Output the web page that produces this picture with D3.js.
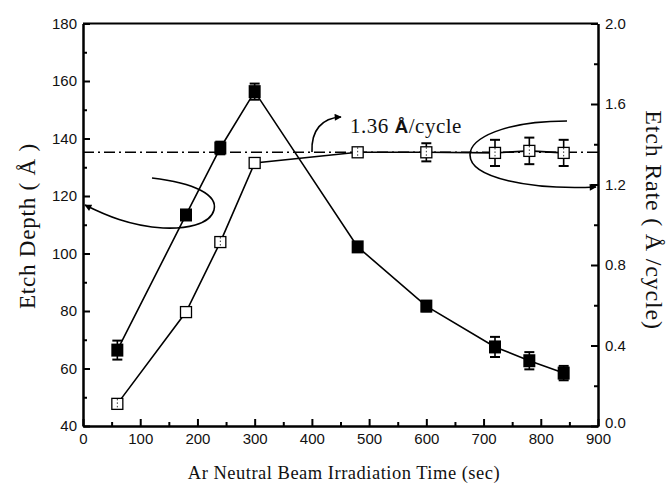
<!DOCTYPE html>
<html>
<head>
<meta charset="utf-8">
<script src="https://cdn.jsdelivr.net/npm/d3@7"></script>
<style>
  body { margin: 0; background: #fff; }
</style>
</head>
<body>
<div id="chart"></div>
<script>
// irradiation times (sec)
var times = [60, 180, 240, 300, 480, 600, 720, 780, 840];
// etch depth (A), filled squares, left axis
var depth = [66.4, 113.4, 136.7, 156.3, 102.3, 81.7, 67.5, 62.7, 58.4];
var depthErr = [3.3, 1.5, 2.2, 2.8, 1.2, 1.8, 3.5, 3.0, 2.5];
// etch rate (A/cycle), open squares, right axis
var rate = [0.11, 0.566, 0.914, 1.307, 1.36, 1.36, 1.357, 1.367, 1.357];
var rateErr = [0.02, 0.0, 0.02, 0.0, 0.015, 0.045, 0.065, 0.066, 0.065];
var refRate = 1.36;

var xTicks = [0, 100, 200, 300, 400, 500, 600, 700, 800, 900];
var leftTicks = [40, 60, 80, 100, 120, 140, 160, 180];
var rightTicks = [0.0, 0.4, 0.8, 1.2, 1.6, 2.0];

var W = 670, H = 489;
var svg = d3.select('#chart').append('svg')
    .attr('width', W)
    .attr('height', H);

var x = d3.scaleLinear().domain([0, 900]).range([83, 598]);
var yL = d3.scaleLinear().domain([40, 180]).range([426, 23.5]);
var yR = d3.scaleLinear().domain([0, 2]).range([426, 23.5]);

var tickFont = '"Liberation Sans", Arial, sans-serif';
var serif = '"Liberation Serif", "Times New Roman", serif';

function styleAxis(g, labels) {
    g.select('.domain').attr('stroke', '#000').attr('stroke-width', 2);
    g.selectAll('.tick line').attr('stroke', '#000').attr('stroke-width', 2);
    g.selectAll('.tick text')
        .style('font-family', tickFont)
        .style('font-size', '15px')
        .attr('fill', '#111');
    if (!labels) g.selectAll('.tick text').remove();
}

// minor ticks
var minorX = d3.range(50, 900, 100);
var minorL = d3.range(50, 180, 20);
var minorR = d3.range(0.2, 2, 0.4);

svg.append('g').attr('transform', 'translate(0,' + yL(40) + ')')
    .call(d3.axisBottom(x).tickValues(minorX).tickSizeInner(-4).tickSizeOuter(0))
    .call(styleAxis, false);
svg.append('g').attr('transform', 'translate(' + x(0) + ',0)')
    .call(d3.axisLeft(yL).tickValues(minorL).tickSizeInner(-4).tickSizeOuter(0))
    .call(styleAxis, false);
svg.append('g').attr('transform', 'translate(' + x(900) + ',0)')
    .call(d3.axisRight(yR).tickValues(minorR).tickSizeInner(-4).tickSizeOuter(0))
    .call(styleAxis, false);

// major ticks
svg.append('g').attr('transform', 'translate(0,' + yL(40) + ')')
    .call(d3.axisBottom(x).tickValues(xTicks).tickSizeInner(-7).tickSizeOuter(0).tickPadding(7))
    .call(styleAxis, true);
svg.append('g').attr('transform', 'translate(' + x(0) + ',0)')
    .call(d3.axisLeft(yL).tickValues(leftTicks).tickSizeInner(-7).tickSizeOuter(0).tickPadding(6))
    .call(styleAxis, true);
var rAxis = svg.append('g').attr('transform', 'translate(' + x(900) + ',0)')
    .call(d3.axisRight(yR).tickValues(rightTicks).tickSizeInner(-7).tickSizeOuter(0).tickPadding(7)
        .tickFormat(d3.format('.1f')))
    .call(styleAxis, true);
// the bottom right label sits slightly higher, clear of "900"
rAxis.selectAll('.tick text').filter(d => d === 0).attr('dy', '0.1em');

// top border
svg.append('line')
    .attr('x1', x(0)).attr('x2', x(900))
    .attr('y1', yL(180)).attr('y2', yL(180))
    .attr('stroke', '#000').attr('stroke-width', 2);

// reference dash-dot line
svg.append('line')
    .attr('x1', x(0)).attr('x2', x(900))
    .attr('y1', yR(refRate)).attr('y2', yR(refRate))
    .attr('stroke', '#000').attr('stroke-width', 1.4)
    .attr('stroke-dasharray', '11,4,2,4');

var depthPts = times.map((t, i) => ({ t: t, v: depth[i], e: depthErr[i] }));
var ratePts = times.map((t, i) => ({ t: t, v: rate[i], e: rateErr[i] }));

// connecting lines
svg.append('path')
    .datum(depthPts)
    .attr('fill', 'none').attr('stroke', '#000').attr('stroke-width', 1.6)
    .attr('d', d3.line().x(d => x(d.t)).y(d => yL(d.v)));
svg.append('path')
    .datum(ratePts)
    .attr('fill', 'none').attr('stroke', '#000').attr('stroke-width', 1.6)
    .attr('d', d3.line().x(d => x(d.t)).y(d => yR(d.v)));

// error bars
function errorBars(pts, y) {
    var g = svg.append('g').attr('stroke', '#000').attr('stroke-width', 1.6);
    pts.filter(d => d.e > 0).forEach(d => {
        var cx = x(d.t);
        g.append('line').attr('x1', cx).attr('x2', cx)
            .attr('y1', y(d.v - d.e)).attr('y2', y(d.v + d.e));
        [d.v - d.e, d.v + d.e].forEach(v => {
            g.append('line').attr('x1', cx - 5).attr('x2', cx + 5)
                .attr('y1', y(v)).attr('y2', y(v)).attr('stroke-width', 2);
        });
    });
}
errorBars(depthPts, yL);
errorBars(ratePts, yR);

// markers
svg.append('g').selectAll('rect')
    .data(depthPts).enter().append('rect')
    .attr('x', d => x(d.t) - 6).attr('y', d => yL(d.v) - 6.5)
    .attr('width', 12).attr('height', 13)
    .attr('fill', '#000');
svg.append('g').selectAll('rect')
    .data(ratePts).enter().append('rect')
    .attr('x', d => x(d.t) - 5.5).attr('y', d => yR(d.v) - 5.5)
    .attr('width', 11).attr('height', 11)
    .attr('fill', '#fff').attr('stroke', '#000').attr('stroke-width', 1.3);
// error bar inner parts showing faintly through the open squares
svg.append('g').selectAll('line')
    .data(ratePts.filter(d => d.e > 0)).enter().append('line')
    .attr('x1', d => x(d.t)).attr('x2', d => x(d.t))
    .attr('y1', d => yR(d.v) - 5).attr('y2', d => yR(d.v) + 5)
    .attr('stroke', '#000').attr('stroke-width', 0.8).attr('stroke-dasharray', '1.5,2');

// arrowhead marker
svg.append('defs').append('marker')
    .attr('id', 'arrow')
    .attr('viewBox', '0 0 10 10')
    .attr('refX', 9).attr('refY', 5)
    .attr('markerWidth', 9).attr('markerHeight', 7)
    .attr('markerUnits', 'userSpaceOnUse')
    .attr('orient', 'auto')
    .append('path').attr('d', 'M0,0 L10,5 L0,10 z').attr('fill', '#000');

// annotation curves
var ann = svg.append('g').attr('fill', 'none').attr('stroke', '#000').attr('stroke-width', 1.6);
ann.append('path')
    .attr('d', 'M312,152 C311,130 322,118 341,117')
    .attr('marker-end', 'url(#arrow)');
ann.append('path')
    .attr('d', 'M152,178 C195,183 218,195 214,210 C210,225 185,229 163,228 C130,226 105,215 85,205')
    .attr('marker-end', 'url(#arrow)');
ann.append('path')
    .attr('d', 'M567,121 C505,121 470,138 470,155 C470,178 530,190 596,187')
    .attr('marker-end', 'url(#arrow)');

// annotation text
var t = svg.append('text')
    .attr('x', 350).attr('y', 133)
    .style('font-family', serif).style('font-size', '21px')
    .style('letter-spacing', '0.5px').attr('fill', '#111');
t.append('tspan').text('1.36 ');
t.append('tspan').style('font-family', tickFont).style('font-weight', 'bold').style('font-size', '19px').text(' Å');
t.append('tspan').text('/cycle');

// axis titles
svg.append('text')
    .attr('transform', 'translate(35,226) rotate(-90)')
    .attr('text-anchor', 'middle')
    .style('font-family', serif).style('font-size', '23px')
    .style('letter-spacing', '0.8px').attr('fill', '#111')
    .text('Etch Depth ( Å )');
svg.append('text')
    .attr('transform', 'translate(646,220) rotate(90)')
    .attr('text-anchor', 'middle')
    .style('font-family', serif).style('font-size', '24px')
    .style('letter-spacing', '0.8px').attr('fill', '#111')
    .text('Etch Rate ( Å /cycle)');
svg.append('text')
    .attr('x', 344).attr('y', 479)
    .attr('text-anchor', 'middle')
    .style('font-family', serif).style('font-size', '18.5px')
    .style('letter-spacing', '0.5px').attr('fill', '#111')
    .text('Ar Neutral Beam Irradiation Time (sec)');
</script>
</body>
</html>
